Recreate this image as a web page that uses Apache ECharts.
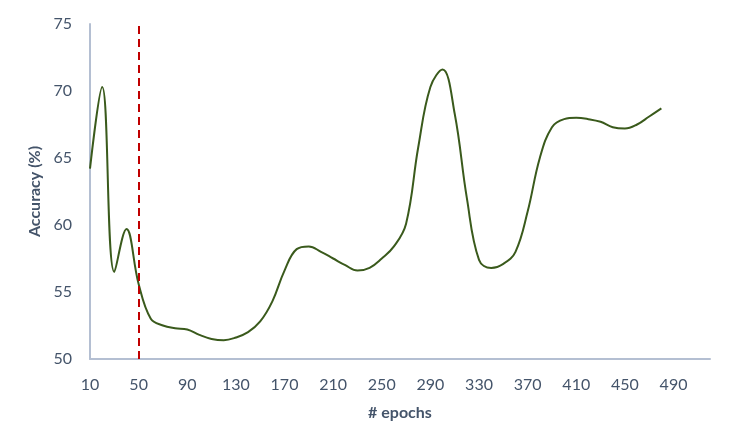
<!DOCTYPE html>
<html>
<head>
<meta charset="utf-8">
<script src="https://cdn.jsdelivr.net/npm/echarts@6/dist/echarts.min.js"></script>
<style>html,body{margin:0;padding:0;background:#fff;}#c{width:746px;height:447px;}</style>
</head>
<body>
<div id="c"></div>
<script>
const epochs = [10,20,30,40,50,60,70,80,90,100,110,120,130,140,150,160,170,180,190,200,210,220,230,240,250,260,270,280,290,300,310,320,330,340,350,360,370,380,390,400,410,420,430,440,450,460,470,480];
const accuracy = [64.2,70.3,56.5,59.7,55.6,53.0,52.5,52.3,52.2,51.8,51.5,51.4,51.6,52.0,52.8,54.3,56.6,58.2,58.4,58.0,57.5,57.0,56.6,56.8,57.5,58.4,60.1,65.8,70.3,71.6,68.3,62.0,57.4,56.8,57.1,58.0,61.0,65.0,67.3,67.9,68.0,67.9,67.7,67.3,67.2,67.5,68.1,68.7];
const yTicks = [50,55,60,65,70,75];
const cutoffEpoch = 50;

const font = 'Lato, "Open Sans", sans-serif';
const textColor = '#44546a';
const axisColor = '#b4bfd2';

const chart = echarts.init(document.getElementById('c'), null, {renderer: 'canvas'});
chart.setOption({
  animation: false,
  backgroundColor: '#ffffff',
  grid: {left: 90, right: 36, top: 24, bottom: 88, containLabel: false},
  xAxis: {
    type: 'value',
    min: 10,
    max: 520,
    interval: 40,
    name: '# epochs',
    nameLocation: 'middle',
    nameGap: 46,
    nameTextStyle: {fontFamily: font, fontSize: 16, fontWeight: 'bold', color: textColor},
    axisLine: {show: true, lineStyle: {color: axisColor, width: 2}},
    axisTick: {show: false},
    splitLine: {show: false},
    axisLabel: {showMaxLabel: false, fontFamily: font, fontSize: 16, color: textColor, margin: 18}
  },
  yAxis: {
    type: 'value',
    min: yTicks[0],
    max: yTicks[yTicks.length - 1],
    interval: 5,
    name: 'Accuracy (%)',
    nameLocation: 'middle',
    nameGap: 45,
    nameRotate: 90,
    nameTextStyle: {fontFamily: font, fontSize: 16, fontWeight: 'bold', color: textColor},
    axisLine: {show: true, lineStyle: {color: axisColor, width: 2}},
    axisTick: {show: false},
    splitLine: {show: false},
    axisLabel: {fontFamily: font, fontSize: 16, color: textColor, margin: 18}
  },
  series: [{
    type: 'line',
    data: epochs.map((e, i) => [e, accuracy[i]]),
    smooth: 0.4,
    showSymbol: false,
    lineStyle: {color: '#3a5a1c', width: 2},
    markLine: {
      silent: true,
      symbol: ['none', 'none'],
      label: {show: false},
      lineStyle: {color: '#c00000', width: 2, type: [8, 5]},
      data: [{xAxis: cutoffEpoch}]
    }
  }]
});
</script>
</body>
</html>
